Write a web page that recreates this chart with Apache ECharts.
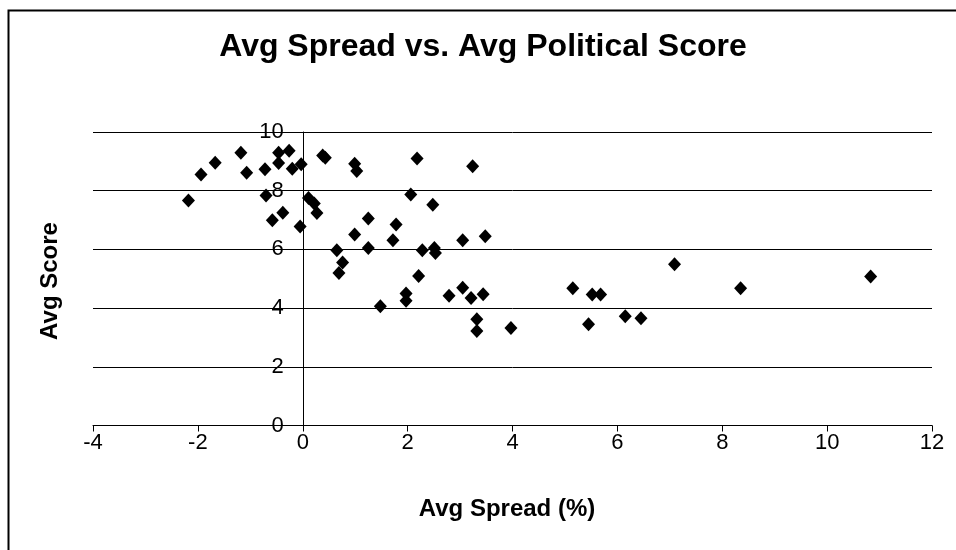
<!DOCTYPE html>
<html><head><meta charset="utf-8">
<script src="https://cdn.jsdelivr.net/npm/echarts@6/dist/echarts.min.js"></script>
<style>html,body{margin:0;padding:0;background:#fff}#c{width:956px;height:550px}</style>
</head><body><div id="c"></div>
<script>
const titleText = 'Avg Spread vs. Avg Political Score';
const xName = 'Avg Spread (%)';
const yName = 'Avg Score';
const spread = [-2.18,-1.94,-1.67,-1.18,-1.07,-0.72,-0.70,-0.46,-0.46,-0.26,-0.20,-0.03,-0.58,-0.38,-0.05,0.11,0.22,0.27,0.38,0.43,0.99,1.03,2.18,3.24,2.06,2.48,1.25,1.78,0.99,1.72,3.48,3.05,0.65,1.25,2.28,2.51,2.53,0.76,0.69,2.21,1.48,1.97,1.97,2.79,3.05,3.21,3.44,3.32,3.32,3.97,7.09,5.15,5.52,5.68,5.45,6.15,6.45,8.35,10.83];
const score = [7.67,8.55,8.95,9.29,8.61,8.73,7.84,9.29,8.94,9.36,8.75,8.90,6.99,7.25,6.78,7.75,7.56,7.24,9.20,9.12,8.92,8.67,9.10,8.83,7.87,7.52,7.05,6.85,6.51,6.31,6.45,6.31,5.97,6.05,5.97,6.05,5.88,5.55,5.20,5.09,4.06,4.50,4.25,4.42,4.69,4.34,4.47,3.62,3.22,3.32,5.49,4.68,4.46,4.46,3.45,3.72,3.65,4.68,5.08];
const xRange = [-4, 12, 2];
const yRange = [0, 10, 2];

const points = spread.map((x, i) => [x, score[i]]);
const font = 'Liberation Sans, Arial, sans-serif';
const gridLeft = 93, gridRight = 24;
const plotW = 956 - gridLeft - gridRight;
const zeroOffset = -plotW * (0 - xRange[0]) / (xRange[1] - xRange[0]);
const chart = echarts.init(document.getElementById('c'), null, {renderer: 'canvas'});
chart.setOption({
  animation: false,
  backgroundColor: '#fff',
  grid: {left: gridLeft, right: gridRight, top: 132, bottom: 124.5},
  xAxis: {
    type: 'value', min: xRange[0], max: xRange[1], interval: xRange[2],
    axisLine: {onZero: false, lineStyle: {color: '#000', width: 1}},
    axisTick: {show: true, length: 6, lineStyle: {color: '#000'}},
    axisLabel: {color: '#000', fontFamily: font, fontSize: 22, margin: 6},
    splitLine: {show: false}
  },
  yAxis: {
    type: 'value', min: yRange[0], max: yRange[1], interval: yRange[2],
    offset: zeroOffset,
    axisLine: {show: true, onZero: false, lineStyle: {color: '#000', width: 1}},
    axisTick: {show: true, length: 6, lineStyle: {color: '#000'}},
    axisLabel: {color: '#000', fontFamily: font, fontSize: 22, margin: 19},
    splitLine: {show: true, lineStyle: {color: '#000', width: 1}}
  },
  series: [{
    type: 'scatter', data: points, symbol: 'diamond', symbolSize: [13, 14],
    itemStyle: {color: '#000', opacity: 1}
  }],
  graphic: [
    {type: 'rect', left: 6, top: 8, shape: {width: 960, height: 560}, style: {fill: 'none', stroke: '#000', lineWidth: 2}, silent: true},
    {type: 'text', x: 483, y: 47, style: {text: titleText, fontFamily: font, fontWeight: 'bold', fontSize: 32, fill: '#000', textAlign: 'center', textVerticalAlign: 'middle'}},
    {type: 'text', x: 507, y: 509, style: {text: xName, fontFamily: font, fontWeight: 'bold', fontSize: 24, fill: '#000', textAlign: 'center', textVerticalAlign: 'middle'}},
    {type: 'text', x: 50, y: 281, rotation: Math.PI / 2, style: {text: yName, fontFamily: font, fontWeight: 'bold', fontSize: 24, fill: '#000', textAlign: 'center', textVerticalAlign: 'middle'}}
  ]
});
</script></body></html>
